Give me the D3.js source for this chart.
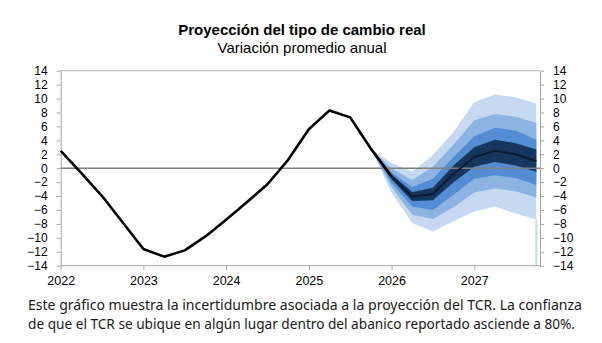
<!DOCTYPE html>
<html>
<head>
<meta charset="utf-8">
<script src="https://cdn.jsdelivr.net/npm/d3@7"></script>
<style>
  body { margin: 0; background: #fff; }
  svg { display: block; }
  .axis text { font-family: "Liberation Sans", Arial, sans-serif; font-size: 12px; fill: #000; }
  .axis path, .axis line { stroke: #a6a6a6; }
</style>
</head>
<body>
<script>
'use strict';

// quarterly history (2022Q1 .. 2026Q1)
var histT = [2022, 2022.25, 2022.5, 2022.75, 2023, 2023.25, 2023.5, 2023.75, 2024, 2024.25, 2024.5, 2024.75,
             2025, 2025.25, 2025.5, 2025.75, 2026];
var histV = [2.5, -0.7, -4.0, -7.8, -11.6, -12.7, -11.8, -9.8, -7.4, -4.9, -2.3, 1.2,
             5.6, 8.3, 7.3, 2.8, -1.2];

// fan chart (2025Q4 .. 2027Q4)
var fanT = [2025.75, 2026, 2026.25, 2026.5, 2026.75, 2027, 2027.25, 2027.5, 2027.75];
var center = [2.8, -1.2, -4.1, -3.7, -0.8, 1.6, 2.5, 2.0, 1.0];
var up1 = [2.8, -0.9, -3.4, -2.8, 0.4, 3.0, 4.1, 3.6, 2.7];
var up2 = [2.8, -0.6, -2.7, -1.5, 1.6, 4.6, 5.8, 5.4, 4.1];
var up3 = [2.8, 0.0, -1.7, 0.2, 3.4, 6.9, 7.8, 7.4, 6.5];
var up4 = [2.8, 0.8, -0.5, 1.9, 5.2, 9.5, 10.6, 10.2, 9.3];
var lo1 = [2.8, -1.6, -4.7, -4.6, -2.0, 0.2, 0.9, 0.4, -0.5];
var lo2 = [2.8, -2.1, -5.5, -6.0, -3.8, -1.5, -1.0, -1.4, -2.4];
var lo3 = [2.8, -2.7, -6.7, -7.3, -5.6, -3.5, -2.9, -3.3, -4.2];
var lo4 = [2.8, -3.5, -7.9, -9.1, -7.6, -6.2, -5.5, -6.5, -7.4];

var yearTicks = [2022, 2023, 2024, 2025, 2026, 2027];
var yTicks = d3.range(-14, 15, 2);

var W = 602, H = 343;
var svg = d3.select('body').append('svg').attr('width', W).attr('height', H);

var x = d3.scaleLinear().domain([2022, 2027.75]).range([60.7, 536.3]);
var y = d3.scaleLinear().domain([-14, 14]).range([265.7, 70.7]);
var xRight = 540;

// titles
svg.append('text').attr('x', 302).attr('y', 35).attr('text-anchor', 'middle')
  .style('font-family', '"Liberation Sans", Arial, sans-serif').style('font-size', '15px').style('font-weight', 'bold')
  .text('Proyección del tipo de cambio real');
svg.append('text').attr('x', 302).attr('y', 53).attr('text-anchor', 'middle')
  .style('font-family', '"Liberation Sans", Arial, sans-serif').style('font-size', '15px')
  .text('Variación promedio anual');

// fan bands, outer to inner
var bands = [
  { lo: lo4, hi: up4, color: '#c6d9f1' },
  { lo: lo3, hi: up3, color: '#8db3e2' },
  { lo: lo2, hi: up2, color: '#548dd4' },
  { lo: lo1, hi: up1, color: '#17365d' }
];

var area = d3.area()
  .x(function (d) { return x(d.t); })
  .y0(function (d) { return y(d.lo); })
  .y1(function (d) { return y(d.hi); });

bands.forEach(function (b) {
  var pts = fanT.map(function (t, i) { return { t: t, lo: b.lo[i], hi: b.hi[i] }; });
  svg.append('path').datum(pts).attr('d', area).attr('fill', b.color);
});

// thin light strip at the end of the fan
svg.append('line')
  .attr('x1', x(fanT[fanT.length - 1])).attr('x2', x(fanT[fanT.length - 1]))
  .attr('y1', y(lo4[lo4.length - 1])).attr('y2', y(-14))
  .attr('stroke', '#c6d9f1').attr('stroke-width', 2);

// frame
svg.append('line').attr('x1', x(2022)).attr('x2', xRight).attr('y1', y(14)).attr('y2', y(14))
  .attr('stroke', '#b3b3b3');

// axes
var gx = svg.append('g').attr('class', 'axis').attr('transform', 'translate(0,' + y(-14) + ')')
  .call(d3.axisBottom(x).tickValues(yearTicks).tickFormat(d3.format('d')).tickSize(4).tickSizeOuter(0).tickPadding(6));
gx.select('.domain').attr('d', 'M' + x(2022) + ',0H' + xRight);
gx.selectAll('text').style('font-size', '12.5px');

svg.append('g').attr('class', 'axis').attr('transform', 'translate(' + x(2022) + ',0)')
  .call(d3.axisLeft(y).tickValues(yTicks).tickSize(4).tickSizeOuter(0).tickPadding(9));

svg.append('g').attr('class', 'axis').attr('transform', 'translate(' + xRight + ',0)')
  .call(d3.axisRight(y).tickValues(yTicks).tickSize(4).tickSizeOuter(0).tickPadding(9));

// zero line
svg.append('line').attr('x1', x(2022)).attr('x2', xRight).attr('y1', y(0)).attr('y2', y(0))
  .attr('stroke', '#808080').attr('stroke-width', 1.5);

// lines
var line = d3.line()
  .x(function (d) { return x(d[0]); })
  .y(function (d) { return y(d[1]); });

svg.append('path').datum(fanT.map(function (t, i) { return [t, center[i]]; }))
  .attr('d', line).attr('fill', 'none').attr('stroke', '#0b1b33').attr('stroke-width', 2);

svg.append('path').datum(histT.map(function (t, i) { return [t, histV[i]]; }))
  .attr('d', line).attr('fill', 'none').attr('stroke', '#000').attr('stroke-width', 2.6)
  .attr('stroke-linejoin', 'round');

// note
var note = [
  'Este gráfico muestra la incertidumbre asociada a la proyección del TCR. La confianza',
  'de que el TCR se ubique en algún lugar dentro del abanico reportado asciende a 80%.'
];
var noteW = [554, 547];
note.forEach(function (s, i) {
  svg.append('text').attr('x', 28).attr('y', 310 + i * 19)
    .attr('textLength', noteW[i]).attr('lengthAdjust', 'spacingAndGlyphs')
    .style('font-family', '"Noto Sans", sans-serif').style('font-size', '13.5px').style('fill', '#1a1a1a')
    .text(s);
});
</script>
</body>
</html>
